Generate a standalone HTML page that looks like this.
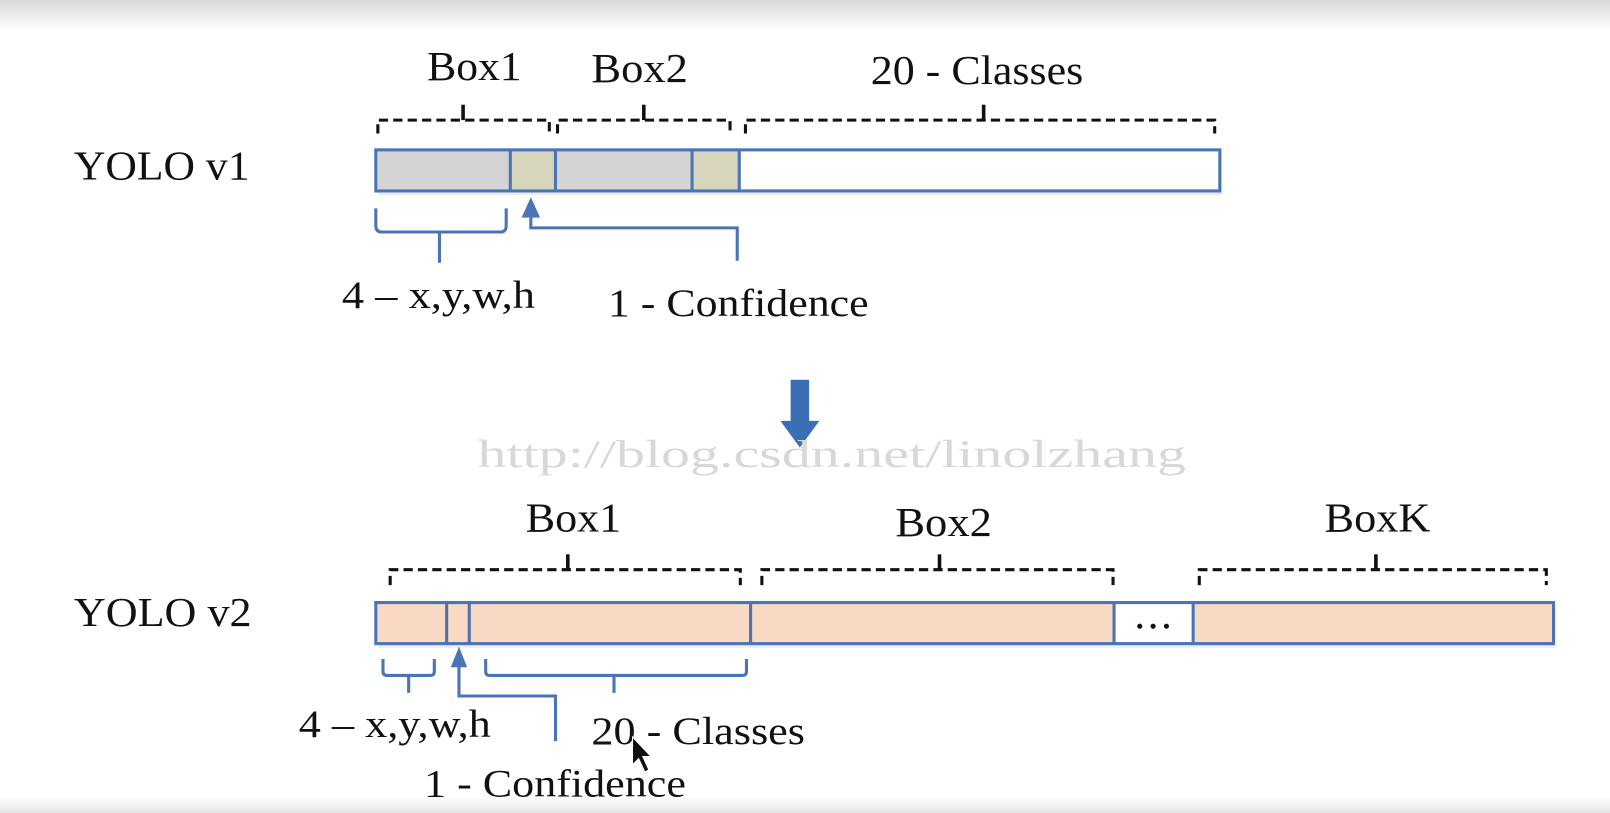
<!DOCTYPE html>
<html><head><meta charset="utf-8"><style>
html,body{margin:0;padding:0;background:#fff;overflow:hidden}
svg{display:block}
text{font-family:"Liberation Serif",serif;fill:#111}
</style></head><body>
<svg width="1610" height="813" viewBox="0 0 1568 792" preserveAspectRatio="none">
<defs>
<linearGradient id="top" x1="0" y1="0" x2="0" y2="1"><stop offset="0" stop-color="#d8d8d8"/><stop offset="1" stop-color="#fff"/></linearGradient>
<linearGradient id="bot" x1="0" y1="0" x2="0" y2="1"><stop offset="0" stop-color="#fff"/><stop offset="1" stop-color="#e6e6e6"/></linearGradient>
</defs>
<rect width="1568" height="792" fill="#fff"/>
<rect width="1568" height="30" fill="url(#top)"/>
<rect y="775" width="1568" height="17" fill="url(#bot)"/>

<g fill="none" stroke="#111" stroke-width="3" stroke-dasharray="9,5">
<path d="M368 130 V117 H535 V130"/><path d="M543 130 V117 H711 V130"/><path d="M726 130 V117 H1183 V130"/>
<path d="M380 570 V555 H721 V570"/><path d="M742 570 V555 H1084 V570"/><path d="M1168 570 V555 H1506 V570"/>
</g>
<g stroke="#111" stroke-width="3.5">
<path d="M451 117 V102"/><path d="M627 117 V102"/><path d="M958 117 V102"/>
<path d="M553 555 V540"/><path d="M915 555 V540"/><path d="M1340 555 V540"/>
</g>

<g font-size="40" lengthAdjust="spacingAndGlyphs">
<text x="416" y="78" textLength="92" lengthAdjust="spacingAndGlyphs">Box1</text>
<text x="576" y="80" textLength="94" lengthAdjust="spacingAndGlyphs">Box2</text>
<text x="848" y="82" textLength="207" lengthAdjust="spacingAndGlyphs">20 - Classes</text>
<text x="72" y="175" textLength="171" lengthAdjust="spacingAndGlyphs">YOLO v1</text>
</g>

<!-- v1 bar -->
<rect x="368" y="150" width="822" height="40" fill="#000" opacity="0.08"/>
<rect x="366" y="146" width="131" height="40" fill="#d4d4d4"/>
<rect x="497" y="146" width="44" height="40" fill="#d6d4bc"/>
<rect x="541" y="146" width="133" height="40" fill="#d4d4d4"/>
<rect x="674" y="146" width="46" height="40" fill="#d6d4bc"/>
<rect x="720" y="146" width="468" height="40" fill="#fff"/>
<g stroke="#4a74b4" stroke-width="3" fill="none">
<rect x="366" y="146" width="822" height="40"/>
<path d="M497 146V186M541 146V186M674 146V186M720 146V186"/>
<path d="M366 203 V220 Q366 226 372 226 H487 Q493 226 493 220 V203 M428 226 V256"/>
<path d="M517 208 V222 H718 V254"/>
</g>
<path d="M508 212 L517 192 L526 212Z" fill="#4a74b4"/>
<text x="333" y="300" font-size="38" textLength="188" lengthAdjust="spacingAndGlyphs">4 – x,y,w,h</text>
<text x="592" y="308" font-size="38" textLength="254" lengthAdjust="spacingAndGlyphs">1 - Confidence</text>

<!-- down arrow -->
<rect x="770" y="370" width="18" height="42" fill="#3b6fb5"/>
<path d="M760 410 L798 410 L779 436Z" fill="#3b6fb5"/>
<text x="465" y="455" font-size="38" textLength="690" lengthAdjust="spacingAndGlyphs" style="font-family:'Liberation Serif',serif;fill:#d8d8d8">http://blog.csdn.net/linolzhang</text>

<!-- v2 -->
<text x="512" y="518" font-size="40" textLength="93" lengthAdjust="spacingAndGlyphs">Box1</text>
<text x="872" y="522" font-size="40" textLength="94" lengthAdjust="spacingAndGlyphs">Box2</text>
<text x="1290" y="518" font-size="40" textLength="103" lengthAdjust="spacingAndGlyphs">BoxK</text>
<text x="72" y="610" font-size="40" textLength="173" lengthAdjust="spacingAndGlyphs">YOLO v2</text>
<rect x="368" y="591" width="1147" height="40" fill="#000" opacity="0.08"/>
<rect x="366" y="587" width="1147" height="40" fill="#f8d9c3"/>
<rect x="1085" y="587" width="77" height="40" fill="#fff"/>
<g stroke="#4a74b4" stroke-width="3" fill="none">
<rect x="366" y="587" width="1147" height="40"/>
<path d="M435 587V627M457 587V627M731 587V627M1085 587V627M1162 587V627"/>
<path d="M373 642 V654 Q373 658 377 658 H419 Q423 658 423 654 V642 M398 658 V675"/>
<path d="M473 642 V654 Q473 658 477 658 H723 Q727 658 727 654 V642 M598 658 V675"/>
<path d="M447 645 V678 H541 V722"/>
</g>
<path d="M439 650 L447 630 L455 650Z" fill="#4a74b4"/>
<g fill="#111"><circle cx="1110" cy="610" r="2.5"/><circle cx="1123" cy="610" r="2.5"/><circle cx="1136" cy="610" r="2.5"/></g>
<text x="291" y="718" font-size="38" textLength="187" lengthAdjust="spacingAndGlyphs">4 – x,y,w,h</text>
<text x="576" y="725" font-size="38" textLength="208" lengthAdjust="spacingAndGlyphs">20 - Classes</text>
<text x="413" y="776" font-size="38" textLength="255" lengthAdjust="spacingAndGlyphs">1 - Confidence</text>
<path d="M616 718 L616 745 L622 739 L628 752 L632 750 L626 737 L634 737Z" fill="#111" stroke="#fff" stroke-width="1"/>
</svg>
</body></html>
